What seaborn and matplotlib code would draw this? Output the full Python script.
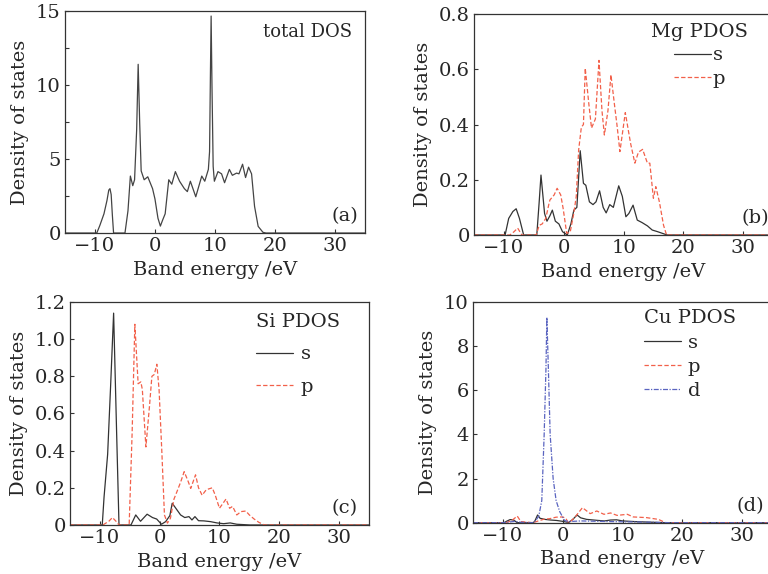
"""Total and partial density of states (Mg / Si / Cu)
"""

import numpy as np
import pandas as pd
import matplotlib

matplotlib.use("Agg")
import matplotlib.pyplot as plt
import seaborn as sns

# ---- data (energy in eV, DOS) ----
tot_e = [-15, -9.7, -9.2, -8.5, -8.0, -7.7, -7.5, -7.3, -7.1, -6.9, -5.0, -4.5, -4.1, -3.7, -3.4, -3.05,
         -2.8, -2.55, -2.3, -1.8, -1.2, -0.7, -0.4, 0.0, 0.5, 0.9, 1.3, 1.7, 2.3, 2.8, 3.4,
         4.1, 4.9, 5.4, 5.9, 6.8, 7.8, 8.3, 8.9, 9.1, 9.25, 9.36, 9.5, 9.7, 9.9, 10.5, 11.1,
         11.6, 12.4, 12.9, 13.6, 14.0, 14.6, 15.1, 15.6, 16.1, 16.6, 17.2, 18.0, 18.5, 35]
tot_dos = [0, 0, 0.5, 1.3, 2.2, 2.9, 3.0, 2.6, 1.2, 0, 0, 1.5, 3.85, 3.2, 3.6, 7.0,
           11.4, 7.5, 4.2, 3.6, 3.8, 3.3, 3.0, 2.3, 1.0, 0.47, 0.9, 1.3, 3.6, 3.3, 4.15,
           3.5, 3.0, 2.8, 3.5, 2.45, 3.85, 3.5, 4.3, 5.5, 11.0, 14.66, 10.0, 4.5, 3.5, 4.15, 4.0,
           3.4, 4.3, 3.9, 4.05, 4.0, 4.65, 3.75, 4.45, 4.0, 1.8, 0.45, 0.05, 0, 0]

mg_s_e = [-15, -9.8, -9.2, -8.5, -7.95, -7.4, -6.7, -4.5, -4.1, -3.8, -3.2, -2.8, -2.3, -1.9,
          -1.4, -0.8, -0.2, 0.6, 1.2, 1.7, 2.2, 2.76, 3.3, 3.7, 4.3, 4.9, 5.4, 6.0, 6.6, 7.1,
          7.7, 8.3, 9.2, 9.8, 10.4, 10.9, 11.6, 12.3, 13.1, 14.0, 14.8, 15.7, 16.5, 17.3, 35]
mg_s = [0, 0, 0.06, 0.085, 0.095, 0.06, 0, 0, 0.12, 0.217, 0.078, 0.05, 0.07, 0.09,
        0.05, 0.04, 0.012, 0.0, 0.04, 0.09, 0.1, 0.305, 0.187, 0.18, 0.12, 0.11, 0.12, 0.16, 0.1, 0.08,
        0.11, 0.1, 0.178, 0.14, 0.066, 0.078, 0.108, 0.054, 0.045, 0.033, 0.018, 0.012, 0.006, 0, 0]

mg_p_e = [-15, -9.0, -8.3, -7.7, -7.0, -4.6, -4.1, -3.6, -3.0, -2.5, -2.3, -1.6, -1.1, -0.5,
          -0.1, 0.5, 1.1, 1.7, 2.1, 2.5, 2.95, 3.3, 3.6, 4.2, 4.65, 5.3, 5.9, 6.4, 6.8, 7.4,
          7.9, 8.5, 8.9, 9.4, 10.3, 10.8, 11.2, 11.9, 12.5, 13.2, 14.0, 14.4, 15.0, 15.4, 16.0,
          16.7, 17.2, 35]
mg_p = [0, 0, 0.012, 0.025, 0, 0, 0.035, 0.04, 0.06, 0.11, 0.127, 0.145, 0.169, 0.145,
        0.097, 0.006, 0.012, 0.08, 0.14, 0.308, 0.39, 0.40, 0.604, 0.475, 0.387, 0.42, 0.632, 0.45, 0.362, 0.45,
        0.58, 0.47, 0.4, 0.302, 0.443, 0.38, 0.33, 0.26, 0.30, 0.31, 0.26, 0.26, 0.133, 0.175, 0.12,
        0.035, 0, 0]

si_s_e = [-15, -9.6, -9.3, -8.7, -8.2, -7.7, -7.2, -6.8, -4.8, -4.0, -3.2, -2.1, -1.2, -0.5,
          0.3, 1.0, 1.7, 2.1, 2.7, 3.5, 4.2, 4.9, 5.4, 5.9, 6.5, 7.4, 8.5, 9.6, 10.7, 11.8,
          12.9, 15.1, 35]
si_s = [0, 0, 0.15, 0.38, 0.75, 1.14, 0.5, 0, 0, 0.054, 0.02, 0.058, 0.04, 0.032,
        0.004, 0.018, 0.05, 0.117, 0.09, 0.054, 0.04, 0.045, 0.027, 0.045, 0.023, 0.022, 0.018, 0.011, 0.007, 0.011,
        0.004, 0, 0]

si_p_e = [-15, -9.5, -8.5, -7.9, -7.3, -6.8, -5.1, -4.6, -4.15, -3.6, -3.15, -2.9, -2.3, -1.7,
          -1.3, -0.9, -0.47, -0.1, 0.37, 0.8, 1.3, 1.8, 2.4, 2.9, 3.5, 4.1, 4.7, 5.2, 6.0, 6.5,
          7.1, 7.8, 8.8, 9.3, 10.0, 10.6, 11.1, 11.7, 12.2, 12.9, 13.6, 14.4, 15.0, 15.8, 16.6,
          17.5, 35]
si_p = [0, 0, 0.02, 0.04, 0.02, 0, 0, 0.5, 1.08, 0.76, 0.77, 0.73, 0.42, 0.64,
        0.80, 0.81, 0.865, 0.73, 0.39, 0.054, 0.01, 0.036, 0.14, 0.18, 0.23, 0.287, 0.24, 0.197, 0.27, 0.2,
        0.16, 0.19, 0.2, 0.16, 0.09, 0.117, 0.14, 0.09, 0.1, 0.054, 0.072, 0.075, 0.054, 0.032, 0.014,
        0, 0]

cu_s_e = [-15, -9.8, -9.5, -8.8, -8.2, -7.6, -5.0, -4.7, -4.2, -3.8, -3.0, -2.0, -1.0, 0.0,
          1.0, 1.7, 2.4, 3.0, 4.0, 6.0, 7.0, 8.0, 9.0, 10.0, 12.0, 14.0, 16.0, 17.0, 35]
cu_s = [0, 0, 0.05, 0.14, 0.12, 0, 0, 0.05, 0.35, 0.2, 0.15, 0.12, 0.1, 0.06,
        0.01, 0.15, 0.35, 0.22, 0.15, 0.1, 0.08, 0.12, 0.13, 0.08, 0.05, 0.03, 0.01, 0, 0]

cu_p_e = [-15, -9.5, -8.5, -7.6, -7.0, -5.0, -4.2, -3.1, -2.2, -1.1, 0.0, 0.5, 0.9, 1.5,
          2.2, 3.3, 4.6, 5.7, 6.9, 8.0, 9.1, 10.8, 11.8, 14.0, 16.0, 17.2, 35]
cu_p = [0, 0, 0.1, 0.3, 0.05, 0, 0.07, 0.16, 0.18, 0.25, 0.26, 0.2, 0.02, 0.1,
        0.3, 0.68, 0.41, 0.53, 0.38, 0.44, 0.33, 0.38, 0.26, 0.23, 0.15, 0, 0]

cu_d_e = [-15, -10, -9, -8, -7, -5, -4.5, -4.0, -3.5, -3.1, -2.8, -2.65, -2.4, -2.1,
          -1.6, -1.1, -0.5, 0.0, 0.3, 1.0, 3.0, 8.0, 15.0, 18.0, 35]
cu_d = [0, 0, 0.03, 0.06, 0.02, 0, 0.1, 0.3, 1.0, 4.0, 7.0, 9.3, 7.0, 4.0,
        2.0, 1.0, 0.5, 0.25, 0.1, 0.05, 0.08, 0.05, 0.02, 0, 0]

x_ticks = [-10, 0, 10, 20, 30]


def long_form(pairs):
    frames = []
    for name, e, d in pairs:
        frames.append(pd.DataFrame({"E": e, "DOS": d, "orb": name}))
    return pd.concat(frames, ignore_index=True)


sns.set_theme(style="ticks")
plt.rcParams["font.family"] = ["DejaVu Serif"]
plt.rcParams["xtick.direction"] = "in"
plt.rcParams["ytick.direction"] = "in"
plt.rcParams["font.size"] = 13

palette = {"s": "#333333", "p": "#f2604a", "d": "#5a64c0"}
dashes = {"s": "", "p": (3.5, 1.8), "d": (4, 1.2, 1, 1.2)}
leg_fs = 14

fig = plt.figure(figsize=(7.68, 5.74), dpi=100)
ax_a = fig.add_axes([0.0846, 0.594, 0.3906, 0.3868])
ax_b = fig.add_axes([0.6172, 0.5906, 0.3893, 0.385])
ax_c = fig.add_axes([0.0911, 0.0854, 0.3893, 0.3885])
ax_d = fig.add_axes([0.6159, 0.0894, 0.3893, 0.3845])

# (a) total DOS
sns.lineplot(x=tot_e, y=tot_dos, ax=ax_a, color="#444444", lw=0.9,
             sort=False, estimator=None)
ax_a.set_ylim(0, 15)
ax_a.set_yticks([0, 5, 10, 15])
ax_a.set_yticks([2.5, 7.5, 12.5], minor=True)
ax_a.text(0.957, 0.905, "total DOS", transform=ax_a.transAxes, ha="right", va="center", fontsize=13)

# (b) Mg
df = long_form([("s", mg_s_e, mg_s), ("p", mg_p_e, mg_p)])
sns.lineplot(data=df, x="E", y="DOS", hue="orb", style="orb", palette=palette,
             dashes=dashes, ax=ax_b, lw=0.9, sort=False, estimator=None)
ax_b.set_ylim(0, 0.8)
ax_b.set_yticks([0, 0.2, 0.4, 0.6, 0.8])
ax_b.set_yticklabels(["0", "0.2", "0.4", "0.6", "0.8"])
sns.move_legend(ax_b, "upper left", bbox_to_anchor=(0.56, 1.005), title="Mg PDOS",
                frameon=False, fontsize=leg_fs, title_fontsize=leg_fs, labelspacing=0.3,
                handlelength=1.9, handletextpad=0.1, borderpad=0, alignment="center")

# (c) Si
df = long_form([("s", si_s_e, si_s), ("p", si_p_e, si_p)])
sns.lineplot(data=df, x="E", y="DOS", hue="orb", style="orb", palette=palette,
             dashes=dashes, ax=ax_c, lw=0.9, sort=False, estimator=None)
ax_c.set_ylim(0, 1.2)
ax_c.set_yticks([0, 0.2, 0.4, 0.6, 0.8, 1.0, 1.2])
ax_c.set_yticklabels(["0", "0.2", "0.4", "0.6", "0.8", "1.0", "1.2"])
sns.move_legend(ax_c, "upper left", bbox_to_anchor=(0.59, 0.995), title="Si PDOS",
                frameon=False, fontsize=leg_fs, title_fontsize=leg_fs, labelspacing=0.75,
                handlelength=1.9, handletextpad=0.4, borderpad=0, alignment="left")

# (d) Cu
df = long_form([("s", cu_s_e, cu_s), ("p", cu_p_e, cu_p), ("d", cu_d_e, cu_d)])
sns.lineplot(data=df, x="E", y="DOS", hue="orb", style="orb", palette=palette,
             dashes=dashes, ax=ax_d, lw=0.9, sort=False, estimator=None)
ax_d.set_ylim(0, 10)
ax_d.set_yticks([0, 2, 4, 6, 8, 10])
sns.move_legend(ax_d, "upper left", bbox_to_anchor=(0.54, 1.01), title="Cu PDOS",
                frameon=False, fontsize=leg_fs, title_fontsize=leg_fs, labelspacing=0.32,
                handlelength=1.9, handletextpad=0.35, borderpad=0, alignment="left")

for ax, tag, xpos in [(ax_a, "(a)", 0.89), (ax_b, "(b)", 0.896), (ax_c, "(c)", 0.876), (ax_d, "(d)", 0.88)]:
    ax.set_xlim(-15, 35)
    ax.set_xticks(x_ticks)
    ax.set_xticklabels(["\u221210", "0", "10", "20", "30"])
    ax.set_xlabel("Band energy /eV", fontsize=14, labelpad=4)
    ax.set_ylabel("Density of states", fontsize=14, labelpad=5)
    ax.text(xpos, 0.075, tag, transform=ax.transAxes, ha="left", va="center", fontsize=14)
    ax.tick_params(which="both", length=3, width=0.8, color="#333333", labelsize=14, pad=3)
    ax.tick_params(which="both", top=False, right=False)
    for sp in ax.spines.values():
        sp.set_visible(True)
        sp.set_color("#333333")
        sp.set_linewidth(0.9)

fig.savefig("out.png", dpi=100, facecolor="white")
